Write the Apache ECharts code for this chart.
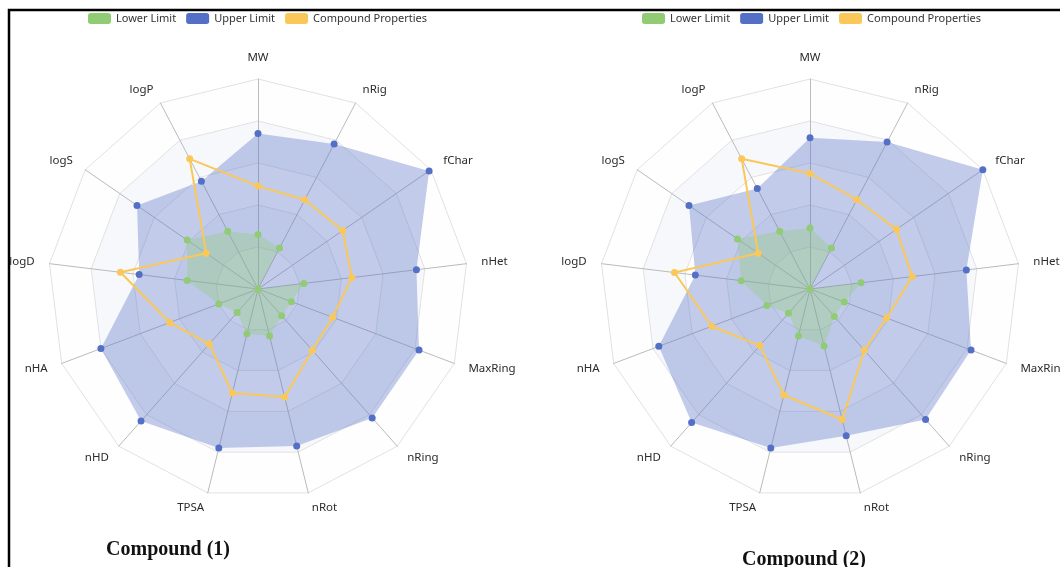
<!DOCTYPE html>
<html>
<head>
<meta charset="utf-8">
<script src="https://cdn.jsdelivr.net/npm/echarts@6/dist/echarts.min.js"></script>
<style>
  html, body { margin: 0; padding: 0; background: #fff; }
  #chart { width: 1060px; height: 567px; }
</style>
</head>
<body>
<div id="chart"></div>
<script>
// Radar axes, listed in ECharts order (counter-clockwise starting at the top)
const indicators = ['MW', 'logP', 'logS', 'logD', 'nHA', 'nHD', 'TPSA', 'nRot', 'nRing', 'MaxRing', 'nHet', 'fChar', 'nRig'];
const seriesNames = ['Lower Limit', 'Upper Limit', 'Compound Properties'];
const chartTitles = ['Compound (1)', 'Compound (2)'];

// Normalised scores (0..1) per axis
const lower1 = [0.26, 0.31, 0.41, 0.34, 0.20, 0.15, 0.22, 0.23, 0.17, 0.17, 0.22, 0.00, 0.22];
const upper1 = [0.74, 0.58, 0.70, 0.57, 0.80, 0.84, 0.78, 0.77, 0.82, 0.82, 0.76, 0.99, 0.78];
const props1 = [0.49, 0.70, 0.30, 0.66, 0.45, 0.35, 0.51, 0.53, 0.39, 0.38, 0.45, 0.49, 0.48];

const lower2 = [0.29, 0.31, 0.42, 0.33, 0.22, 0.155, 0.23, 0.28, 0.175, 0.175, 0.245, 0.00, 0.22];
const upper2 = [0.72, 0.54, 0.70, 0.55, 0.77, 0.85, 0.78, 0.72, 0.83, 0.82, 0.75, 1.00, 0.79];
const props2 = [0.55, 0.70, 0.30, 0.65, 0.50, 0.36, 0.52, 0.64, 0.39, 0.39, 0.49, 0.50, 0.48];

const COLORS = { lower: '#91cc75', upper: '#5470c6', props: '#fac858' };
const FONT = '"Noto Sans", "Open Sans", sans-serif';

function radarCfg(cx) {
  return {
    center: [cx, 289],
    radius: 210,
    startAngle: 90,
    splitNumber: 5,
    shape: 'polygon',
    indicator: indicators.map(n => ({ name: n, max: 1, min: 0 })),
    axisName: { color: '#2b2b2b', fontSize: 11.5, fontFamily: FONT },
    nameGap: 15,
    axisLine: { lineStyle: { color: '#bbb', width: 1 } },
    splitLine: { lineStyle: { color: '#e2e2e2', width: 1 } },
    splitArea: { show: true, areaStyle: { color: ['rgba(250,250,250,0.2)', 'rgba(210,219,238,0.2)'] } }
  };
}

function radarSeries(idx, lower, upper, props) {
  return {
    type: 'radar',
    radarIndex: idx,
    symbol: 'circle',
    symbolSize: 7,
    data: [
      {
        name: seriesNames[1], value: upper,
        itemStyle: { color: COLORS.upper },
        lineStyle: { width: 0, color: COLORS.upper },
        areaStyle: { color: COLORS.upper, opacity: 0.35 }
      },
      {
        name: seriesNames[0], value: lower,
        itemStyle: { color: COLORS.lower },
        lineStyle: { width: 0, color: COLORS.lower },
        areaStyle: { color: COLORS.lower, opacity: 0.35 }
      },
      {
        name: seriesNames[2], value: props,
        itemStyle: { color: COLORS.props },
        lineStyle: { width: 2, color: COLORS.props }
      }
    ]
  };
}

function legendCfg(cx) {
  return {
    data: seriesNames,
    left: cx,
    top: 8,
    itemWidth: 23,
    itemHeight: 11,
    itemGap: 10,
    textStyle: { color: '#333', fontSize: 11, fontFamily: FONT }
  };
}

const chart = echarts.init(document.getElementById('chart'), null, { renderer: 'canvas' });

const option = {
  backgroundColor: '#fff',
  animation: false,
  color: [COLORS.lower, COLORS.upper, COLORS.props],
  legend: [legendCfg(83), legendCfg(637)],
  radar: [radarCfg(258), radarCfg(810)],
  series: [
    radarSeries(0, lower1, upper1, props1),
    radarSeries(1, lower2, upper2, props2)
  ],
  graphic: [
    {
      type: 'rect',
      shape: { x: 9, y: 10, width: 1120, height: 620 },
      style: { fill: 'none', stroke: '#000', lineWidth: 2.5 },
      z: 100
    },
    {
      type: 'text',
      x: 168, y: 550,
      style: {
        text: chartTitles[0],
        font: 'bold 20px "Liberation Serif", "Times New Roman", serif',
        fill: '#111',
        textAlign: 'center',
        textVerticalAlign: 'middle'
      }
    },
    {
      type: 'text',
      x: 804, y: 560,
      style: {
        text: chartTitles[1],
        font: 'bold 20px "Liberation Serif", "Times New Roman", serif',
        fill: '#111',
        textAlign: 'center',
        textVerticalAlign: 'middle'
      }
    }
  ]
};

chart.setOption(option);
</script>
</body>
</html>
